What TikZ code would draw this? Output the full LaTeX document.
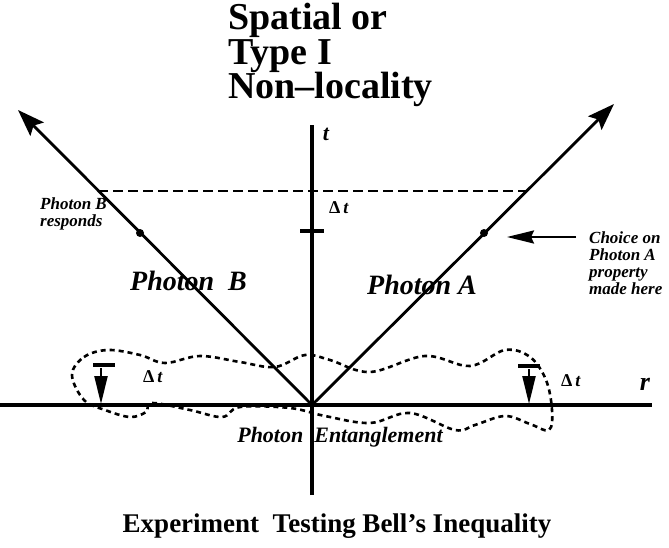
\documentclass[tikz,border=0pt]{standalone}
\usepackage{fontspec}
\setmainfont{Liberation Serif}
\usetikzlibrary{arrows.meta}
\tikzset{
  axis/.style={line width=3.5pt},
  ray/.style={line width=2.8pt,-{Stealth[length=27pt,width=19pt,inset=5pt]}},
  hline/.style={line width=2.6pt,dash pattern=on 10pt off 5pt},
  loop/.style={line width=2.6pt,dash pattern=on 5pt off 4pt},
  lbl/.style={inner sep=0pt,font=\fontsize{17}{17}\selectfont\bfseries\itshape},
  big/.style={inner sep=0pt,anchor=base west,font=\fontsize{28}{28}\selectfont\bfseries\itshape},
  ttl/.style={inner sep=0pt,anchor=base west,font=\fontsize{38}{38}\selectfont\bfseries},
  dt/.style={inner sep=0pt,font=\fontsize{18}{18}\selectfont\bfseries},
  dotpt/.style={circle,fill,inner sep=0pt,minimum size=8pt},
  bar/.style={line width=4pt},
  down/.style={line width=2.2pt,-{Triangle[length=28pt,width=13pt]}}
}
\begin{document}
\begin{tikzpicture}[x=1pt,y=-1pt]
\useasboundingbox (0,0) rectangle (669,548);
% title
\node[ttl] (t1) at (228,30) {Spatial or};
\node[ttl] (t2) at (228,64.5) {Type I};
\node[ttl] (t3) at (228,99) {Non–locality};
% axes
\coordinate (O) at (312,405);
\coordinate (rL) at (0,405);
\coordinate (rR) at (652,405);
\coordinate (tT) at (312,125);
\coordinate (tB) at (312,495);
\draw[axis] (rL) -- (rR);
\draw[axis] (tB) -- (tT);
\node[inner sep=0pt,font=\fontsize{22}{22}\selectfont\bfseries\itshape] (tlab) at (326,134) {t};
\node[inner sep=0pt,font=\fontsize{26}{26}\selectfont\bfseries\itshape] (rlab) at (645,384) {r};
% photon rays
\coordinate (A) at (614,104);
\coordinate (B) at (18,110);
\draw[ray] (O) -- (A);
\draw[ray] (O) -- (B);
% dashed simultaneity line
\coordinate (hB) at (98,191);
\coordinate (hA) at (526,191);
\draw[hline] (hB) -- (hA);
% dots
\node[dotpt] (dB) at (140,233) {};
\node[dotpt] (dA) at (484,233) {};
% tick on t axis
\coordinate (k1) at (300,231);
\coordinate (k2) at (324,231);
\draw[bar] (k1) -- (k2);
\node[dt] (dtt) at (339,208) {Δ\,\textit{t}};
% labels
\node[lbl,align=left,anchor=north west] (pbr) at (40,198) {Photon B\\responds};
\node[lbl,align=left,anchor=north west] (choice) at (589,232) {Choice on\\Photon A\\property\\made here};
\coordinate (cs) at (576,237);
\coordinate (ce) at (507,237);
\draw[line width=2.6pt,-{Stealth[length=27pt,width=13pt,inset=3pt]}] (cs) -- (ce);
\node[big] (PB) at (130,290) {Photon\ \ B};
\node[big] (PA) at (367,294) {Photon A};
% entanglement loop
\draw[loop] plot[smooth cycle,tension=0.6] coordinates {
 (72,375) (84,357) (108,350) (140,355) (165,363) (200,356) (240,362) (275,367)
 (305,355) (330,360) (370,372) (425,356) (470,366) (505,350) (530,357) (546,380)
 (552,410) (549,430) (530,424) (505,416) (475,425) (455,430) (410,413) (370,423)
 (325,416) (290,408) (240,407) (222,417) (190,410) (152,403) (146,412) (130,417)
 (105,410) (84,400)};
\node[inner sep=0pt,font=\fontsize{22}{22}\selectfont\bfseries\itshape] (ent) at (340,437) {Photon\ \ Entanglement};
% delta-t markers
\coordinate (lb1) at (93,365);
\coordinate (lb2) at (115,365);
\draw[bar] (lb1) -- (lb2);
\coordinate (la1) at (101,368);
\coordinate (la2) at (101,404);
\draw[down] (la1) -- (la2);
\node[dt] (dtl) at (153,377) {Δ\,\textit{t}};
\coordinate (rb1) at (518,366);
\coordinate (rb2) at (540,366);
\draw[bar] (rb1) -- (rb2);
\coordinate (ra1) at (529,369);
\coordinate (ra2) at (529,404);
\draw[down] (ra1) -- (ra2);
\node[dt] (dtr) at (571,381) {Δ\,\textit{t}};
% caption
\node[inner sep=0pt,anchor=base,font=\fontsize{27}{27}\selectfont\bfseries] (cap) at (337,532) {Experiment\ \ Testing Bell’s Inequality};
\end{tikzpicture}
\end{document}
